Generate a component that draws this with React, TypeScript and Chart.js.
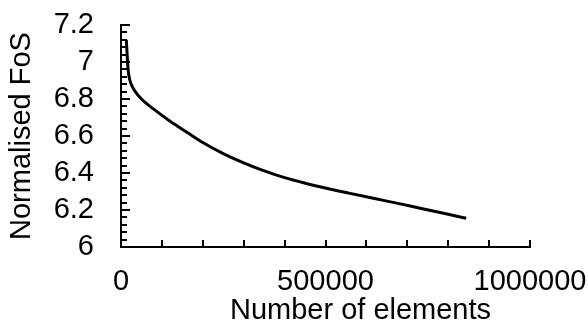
import React, { useEffect, useRef } from "react";
import { Chart, registerables } from "chart.js";

Chart.register(...registerables);

// ---- data ----
const elements = [
  13000, 15000, 17000, 19000, 24000, 35000, 50000, 80000, 120000, 165000,
  200000, 250000, 300000, 340000, 400000, 450000, 505000, 560000, 620000,
  683000, 740000, 800000, 844000,
];
const normalisedFoS = [
  7.12, 7.04, 6.97, 6.93, 6.885, 6.84, 6.8, 6.745, 6.68, 6.615,
  6.565, 6.505, 6.455, 6.42, 6.375, 6.345, 6.316, 6.29, 6.262,
  6.233, 6.205, 6.177, 6.155,
];

const xAxisTitle = "Number of elements";
const yAxisTitle = "Normalised FoS";

const X_MIN = 0;
const X_MAX = 1000000;
const X_MAJOR = 500000;
const X_MINOR = 100000;
const Y_MIN = 6;
const Y_MAX = 7.2;
const Y_MAJOR = 0.2;
const Y_MINOR = 0.04;

const FONT = "'Liberation Sans', Arial, sans-serif";
const FONT_SIZE = 29;

const insideTicks = {
  id: "insideTicks",
  afterDraw(chart: any) {
    const { ctx, chartArea } = chart;
    const xs = chart.scales.x;
    const ys = chart.scales.y;
    ctx.save();
    ctx.strokeStyle = "#000";
    ctx.lineWidth = 2;
    const nY = Math.round((Y_MAX - Y_MIN) / Y_MINOR);
    const perMajorY = Math.round(Y_MAJOR / Y_MINOR);
    for (let i = 0; i <= nY; i++) {
      const v = Y_MIN + i * Y_MINOR;
      const py = Math.round(ys.getPixelForValue(v));
      const len = i % perMajorY === 0 ? 9 : 6;
      ctx.beginPath();
      ctx.moveTo(chartArea.left, py);
      ctx.lineTo(chartArea.left + len, py);
      ctx.stroke();
    }
    const nX = Math.round((X_MAX - X_MIN) / X_MINOR);
    for (let i = 0; i <= nX; i++) {
      const v = X_MIN + i * X_MINOR;
      const px = Math.round(xs.getPixelForValue(v));
      ctx.beginPath();
      ctx.moveTo(px, chartArea.bottom);
      ctx.lineTo(px, chartArea.bottom - 7);
      ctx.stroke();
    }
    ctx.fillStyle = "#000";
    ctx.font = `${FONT_SIZE}px ${FONT}`;
    ctx.textAlign = "center";
    ctx.textBaseline = "alphabetic";
    ctx.fillText(xAxisTitle, (chartArea.left + chartArea.right) / 2 + 35, 319);
    ctx.restore();
  },
};

export default function App() {
  const ref = useRef<HTMLCanvasElement>(null);

  useEffect(() => {
    document.body.style.margin = "0";
    const canvas = ref.current;
    if (!canvas) return;
    const chart = new Chart(canvas, {
      type: "line",
      data: {
        datasets: [
          {
            data: elements.map((x, i) => ({ x, y: normalisedFoS[i] })),
            borderColor: "#000",
            borderWidth: 3,
            pointRadius: 0,
            fill: false,
            cubicInterpolationMode: "monotone",
          },
        ],
      },
      options: {
        responsive: false,
        animation: false,
        devicePixelRatio: 1,
        layout: { padding: { top: 25, right: 58, bottom: 0, left: 0 } },
        plugins: { legend: { display: false }, tooltip: { enabled: false } },
        scales: {
          x: {
            type: "linear",
            min: X_MIN,
            max: X_MAX,
            afterFit: (s: any) => {
              s.height = 77;
              s.paddingLeft = 0;
              s.paddingRight = 0;
            },
            grid: { display: true, drawOnChartArea: false, drawTicks: false },
            border: { display: true, color: "#000", width: 2 },
            ticks: {
              stepSize: X_MAJOR,
              autoSkip: false,
              maxRotation: 0,
              padding: 18,
              color: "#000",
              font: { family: FONT, size: FONT_SIZE },
              callback: (v: any) => String(v),
            },
          },
          y: {
            type: "linear",
            min: Y_MIN,
            max: Y_MAX,
            afterFit: (s: any) => {
              s.width = 121;
              s.paddingTop = 0;
              s.paddingBottom = 0;
            },
            grid: { display: true, drawOnChartArea: false, drawTicks: false },
            border: { display: true, color: "#000", width: 2 },
            title: {
              display: true,
              text: yAxisTitle,
              color: "#000",
              font: { family: FONT, size: FONT_SIZE },
              padding: { top: 5, bottom: 0 },
            },
            ticks: {
              stepSize: Y_MAJOR,
              autoSkip: false,
              padding: 27,
              color: "#000",
              font: { family: FONT, size: FONT_SIZE },
              callback: (v: any) => String(Math.round(Number(v) * 10) / 10),
            },
          },
        },
      },
      plugins: [insideTicks],
    });
    return () => chart.destroy();
  }, []);

  return (
    <div style={{ width: 588, height: 324 }}>
      <canvas ref={ref} width={588} height={324} />
    </div>
  );
}
